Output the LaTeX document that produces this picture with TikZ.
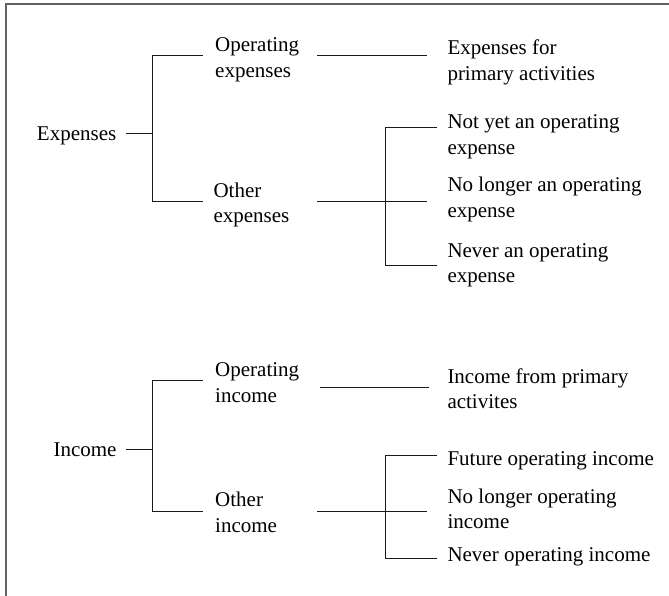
\documentclass[tikz,border=0pt]{standalone}
\usepackage{fontspec}
\setmainfont{Liberation Serif}
% two-line label whose reference point is the first baseline
\newcommand\twolines[2]{\begin{tabular}[t]{@{}l@{}}#1\\#2\end{tabular}}
\begin{document}
\begin{tikzpicture}[x=1pt,y=-1pt,
  lbl/.style={inner sep=0pt, font=\fontsize{21}{25.5}\selectfont, anchor=base west},
  rootlbl/.style={lbl, anchor=base east},
  conn/.style={line width=1pt, black!90},
  frameline/.style={line width=2pt, color=black!62}]
\useasboundingbox (0,0) rectangle (669,596);
\draw[frameline] (6,596) -- (6,4) -- (669,4);

% ---------- Expenses ----------
\node[rootlbl] (exp) at (116.5,141) {Expenses};
\node[lbl] (opex) at (215,51.7) {\twolines{Operating}{expenses}};
\node[lbl] (othex) at (213.3,197.3) {\twolines{Other}{expenses}};
\node[lbl] (expfor) at (447.3,55) {\twolines{Expenses for}{primary activities}};
\node[lbl] (notyet) at (447.3,128.8) {\twolines{Not yet an operating}{expense}};
\node[lbl] (nolonger) at (447.3,192) {\twolines{No longer an operating}{expense}};
\node[lbl] (never) at (447.3,257) {\twolines{Never an operating}{expense}};

\coordinate (exp-s) at (126,133.3);
\coordinate (exp-j) at (152.3,133.3);
\coordinate (exp-jt) at (152.3,56);
\coordinate (exp-jb) at (152.3,201.7);
\coordinate (opex-in) at (203,56);
\coordinate (othex-in) at (203,201.7);
\draw[conn] (exp-s) -- (exp-j);
\draw[conn] (opex-in) -- (exp-jt) -- (exp-jb) -- (othex-in);

\coordinate (opex-out) at (317,56);
\coordinate (expfor-in) at (426.7,56);
\draw[conn] (opex-out) -- (expfor-in);

\coordinate (othex-out) at (317,201.7);
\coordinate (nolonger-in) at (426.7,201.7);
\draw[conn] (othex-out) -- (nolonger-in);

\coordinate (oe-jt) at (385,127.7);
\coordinate (oe-jb) at (385,265.7);
\coordinate (notyet-in) at (437.3,127.7);
\coordinate (never-in) at (437.3,265.7);
\draw[conn] (notyet-in) -- (oe-jt) -- (oe-jb) -- (never-in);

% ---------- Income ----------
\node[rootlbl] (inc) at (116.7,456.7) {Income};
\node[lbl] (opinc) at (215,376.7) {\twolines{Operating}{income}};
\node[lbl] (othinc) at (215,506.7) {\twolines{Other}{income}};
\node[lbl] (incfrom) at (447.3,383.3) {\twolines{Income from primary}{activites}};
\node[lbl] (future) at (447.3,465) {Future operating income};
\node[lbl] (nolongerinc) at (447.3,503.3) {\twolines{No longer operating}{income}};
\node[lbl] (neverinc) at (447.3,561.7) {Never operating income};

\coordinate (inc-s) at (126,449);
\coordinate (inc-j) at (152.3,449);
\coordinate (inc-jt) at (152.3,380);
\coordinate (inc-jb) at (152.3,511.7);
\coordinate (opinc-in) at (203,380);
\coordinate (othinc-in) at (203,511.7);
\draw[conn] (inc-s) -- (inc-j);
\draw[conn] (opinc-in) -- (inc-jt) -- (inc-jb) -- (othinc-in);

\coordinate (opinc-out) at (320,387.7);
\coordinate (incfrom-in) at (429,387.7);
\draw[conn] (opinc-out) -- (incfrom-in);

\coordinate (othinc-out) at (317.3,511.7);
\coordinate (nolongerinc-in) at (426.7,511.7);
\draw[conn] (othinc-out) -- (nolongerinc-in);

\coordinate (oi-jt) at (385,455);
\coordinate (oi-jb) at (385,558.3);
\coordinate (future-in) at (437.3,455);
\coordinate (neverinc-in) at (437.3,558.3);
\draw[conn] (future-in) -- (oi-jt) -- (oi-jb) -- (neverinc-in);
\end{tikzpicture}
\end{document}
